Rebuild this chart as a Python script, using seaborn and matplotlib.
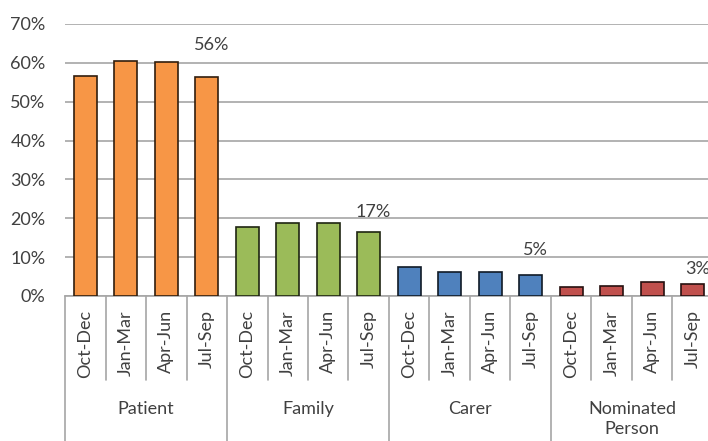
import numpy as np
import pandas as pd
import matplotlib
matplotlib.use("Agg")
import matplotlib.pyplot as plt
import matplotlib.transforms as mtransforms
import seaborn as sns

# data
groups = ["Patient", "Family", "Carer", "Nominated\nPerson"]
quarters = ["Oct-Dec", "Jan-Mar", "Apr-Jun", "Jul-Sep"]
patient = [56.7, 60.6, 60.3, 56.4]
family = [17.8, 18.8, 18.8, 16.5]
carer = [7.4, 6.1, 6.1, 5.3]
nominated = [2.4, 2.7, 3.7, 3.0]
last_labels = ["56%", "17%", "5%", "3%"]

colors = ["#F79646", "#9BBB59", "#4F81BD", "#C0504D"]
label_offsets = [23, 14, 18, 11]  # points above bar top, label centre

rows = []
for g, vals in zip(groups, [patient, family, carer, nominated]):
    for q, v in zip(quarters, vals):
        rows.append({"slot": g + "|" + q, "group": g, "quarter": q, "value": v / 100})
df = pd.DataFrame(rows)

sns.set_style("white")
plt.rcParams["font.family"] = ["Lato", "DejaVu Sans"]
text_col = "#404040"
grid_col = "#A6A6A6"

fig = plt.figure(figsize=(7.08, 4.41), dpi=100)
ax = fig.add_axes([65 / 708, 145 / 441, 648 / 708, 272 / 441])

sns.barplot(data=df, x="slot", y="value", hue="group", palette=colors,
            saturation=1, dodge=False, width=0.58, legend=False, ax=ax, zorder=3)

# darker outline per bar
for p in ax.patches:
    fc = np.array(matplotlib.colors.to_rgb(p.get_facecolor()))
    p.set_edgecolor(fc * 0.2)
    p.set_linewidth(1.2)

ax.set_ylim(0, 0.7)
ax.set_xlim(-0.5, len(df) - 0.5)
ax.set_yticks(np.arange(0, 0.71, 0.1))
ax.set_yticklabels([f"{int(round(t * 100))}%" for t in np.arange(0, 0.71, 0.1)],
                   fontsize=13, color=text_col)
ax.yaxis.grid(True, color=grid_col, linewidth=1.2, zorder=0)
ax.set_axisbelow(True)
ax.tick_params(axis="y", length=0, pad=14)

ax.set_xticks(range(len(df)))
ax.set_xticklabels(df["quarter"], rotation=90, fontsize=13, color=text_col)
ax.tick_params(axis="x", length=0, pad=10)
ax.set_xlabel("")
ax.set_ylabel("")

for s in ["top", "right", "left"]:
    ax.spines[s].set_visible(False)
ax.spines["bottom"].set_color(grid_col)
ax.spines["bottom"].set_linewidth(1.2)

# category separators and group labels below the axis
trans = mtransforms.blended_transform_factory(ax.transData, ax.transAxes)
for i in range(len(df) + 1):
    bottom = -0.6 if i % 4 == 0 else -0.309
    ax.plot([i - 0.5, i - 0.5], [0, bottom], color=grid_col, linewidth=1.2,
            transform=trans, clip_on=False)
for k, g in enumerate(groups):
    ax.text(k * 4 + 1.5, -0.385, g, transform=trans, ha="center", va="top",
            fontsize=13, color=text_col, linespacing=1.3)

# value labels on the latest quarter of each group
for k, lab in enumerate(last_labels):
    idx = k * 4 + 3
    ax.annotate(lab, (idx + 0.12, df["value"].iloc[idx]), xytext=(0, label_offsets[k]),
                textcoords="offset points", ha="center", va="center",
                fontsize=13, color=text_col, annotation_clip=False)

fig.savefig("out.png", dpi=100)
